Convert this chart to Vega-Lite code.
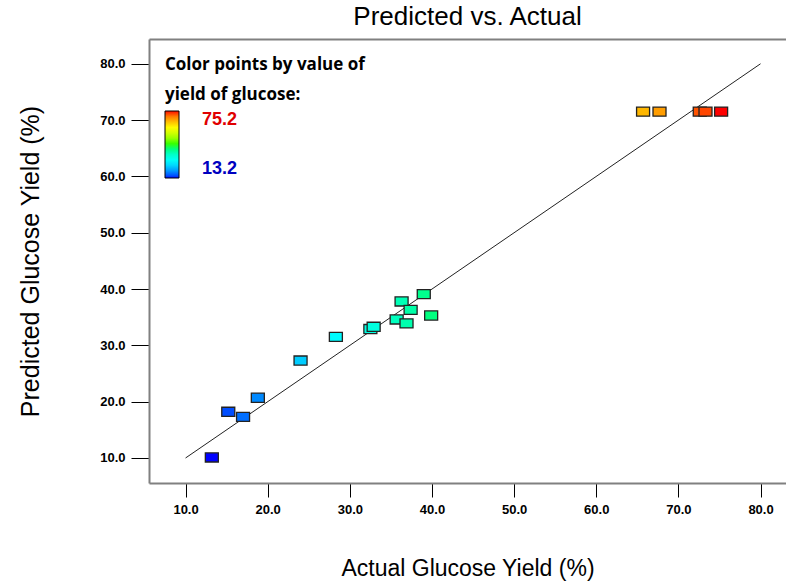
{
  "$schema": "https://vega.github.io/schema/vega-lite/v6.json",
  "width": 637,
  "height": 444,
  "autosize": {"type": "none"},
  "padding": {"left": 149, "top": 39, "right": 0, "bottom": 99},
  "background": "white",
  "title": {"text": "Predicted vs. Actual", "font": "Liberation Sans", "fontSize": 26, "fontWeight": "normal", "color": "#000", "anchor": "middle", "offset": -12, "baseline": "alphabetic"},
  "config": {"view": {"stroke": null}},
  "datasets": {
    "runs": [
      {"actual": 13.2, "predicted": 10.1},
      {"actual": 15.2, "predicted": 18.2},
      {"actual": 17.0, "predicted": 17.3},
      {"actual": 18.8, "predicted": 20.7},
      {"actual": 24.0, "predicted": 27.3},
      {"actual": 28.3, "predicted": 31.5},
      {"actual": 32.5, "predicted": 32.9},
      {"actual": 32.9, "predicted": 33.3},
      {"actual": 36.3, "predicted": 37.8},
      {"actual": 37.4, "predicted": 36.3},
      {"actual": 35.7, "predicted": 34.6},
      {"actual": 36.9, "predicted": 33.9},
      {"actual": 39.0, "predicted": 39.1},
      {"actual": 39.9, "predicted": 35.3},
      {"actual": 65.7, "predicted": 71.5},
      {"actual": 67.7, "predicted": 71.5},
      {"actual": 72.6, "predicted": 71.5},
      {"actual": 73.3, "predicted": 71.5},
      {"actual": 75.2, "predicted": 71.5}
    ],
    "diag": [
      {"actual": 10, "predicted": 10},
      {"actual": 80, "predicted": 80}
    ]
  },
  "layer": [
    {
      "data": {"name": "diag"},
      "mark": {"type": "line", "color": "#222", "strokeWidth": 1},
      "encoding": {
        "x": {"field": "actual", "type": "quantitative", "scale": {"domain": [5.55, 83.1], "nice": false, "zero": false},
              "axis": {"orient": "top", "labels": false, "ticks": false, "title": null, "grid": false, "domainColor": "#808080", "domainWidth": 2}},
        "y": {"field": "predicted", "type": "quantitative", "scale": {"domain": [5.56, 84.4], "nice": false, "zero": false},
              "axis": {"values": [10, 20, 30, 40, 50, 60, 70, 80], "format": ".1f", "grid": false, "labelFont": "Liberation Sans", "labelFontSize": 13, "labelFontWeight": "bold", "labelColor": "#000", "tickSize": 18, "tickColor": "#000", "tickWidth": 1, "domainColor": "#808080", "domainWidth": 2, "labelPadding": 6, "title": "Predicted Glucose Yield (%)", "titleFont": "Liberation Sans", "titleFontSize": 25, "titleFontWeight": "normal", "titleColor": "#000", "titlePadding": 56}}
      }
    },
    {
      "data": {"name": "runs"},
      "mark": {"type": "point", "shape": "M-1,-0.7L1,-0.7L1,0.7L-1,0.7Z", "filled": true, "size": 169, "stroke": "#222", "strokeWidth": 1.3, "opacity": 1},
      "encoding": {
        "x": {"field": "actual", "type": "quantitative", "scale": {"domain": [5.55, 83.1], "nice": false, "zero": false},
              "axis": {"values": [10, 20, 30, 40, 50, 60, 70, 80], "format": ".1f", "grid": false, "labelFont": "Liberation Sans", "labelFontSize": 13, "labelFontWeight": "bold", "labelColor": "#000", "tickSize": 14, "tickColor": "#000", "tickWidth": 1, "domainColor": "#808080", "domainWidth": 2, "labelPadding": 6, "title": "Actual Glucose Yield (%)", "titleFont": "Liberation Sans", "titleFontSize": 23, "titleFontWeight": "normal", "titleColor": "#000", "titlePadding": 41}},
        "y": {"field": "predicted", "type": "quantitative", "scale": {"domain": [5.56, 84.4], "nice": false, "zero": false},
              "axis": {"values": [10, 20, 30, 40, 50, 60, 70, 80], "format": ".1f", "grid": false, "labelFont": "Liberation Sans", "labelFontSize": 13, "labelFontWeight": "bold", "labelColor": "#000", "tickSize": 18, "tickColor": "#000", "tickWidth": 1, "domainColor": "#808080", "domainWidth": 2, "labelPadding": 6, "title": "Predicted Glucose Yield (%)", "titleFont": "Liberation Sans", "titleFontSize": 25, "titleFontWeight": "normal", "titleColor": "#000", "titlePadding": 56}},
        "color": {"field": "actual", "type": "quantitative",
                  "scale": {"domain": [13.2, 28.7, 44.2, 59.7, 75.2], "range": ["#0000ff", "#00ffff", "#00ff00", "#ffff00", "#ff0000"]},
                  "legend": {"orient": "none", "legendX": 16, "legendY": 18, "type": "gradient", "direction": "vertical", "values": [13.2, 75.2], "format": ".1f",
                             "gradientLength": 67, "gradientThickness": 14, "gradientStrokeColor": "#000", "gradientStrokeWidth": 1,
                             "labelFont": "Liberation Sans", "labelFontSize": 18, "labelFontWeight": "bold", "labelOffset": 23,
                             "labelColor": {"expr": "datum.value > 40 ? '#e00000' : '#0000c0'"},
                             "title": ["Color points by value of", "yield of glucose:"], "titleFont": "Open Sans", "titleFontSize": 17, "titleFontWeight": "bold", "titleColor": "#000", "titleLineHeight": 30, "titlePadding": 7, "titleLimit": 320,
                             "encode": {"gradient": {"update": {"x": {"value": 17}}}}}}
      }
    }
  ],
  "resolve": {"axis": {"x": "independent"}}
}
